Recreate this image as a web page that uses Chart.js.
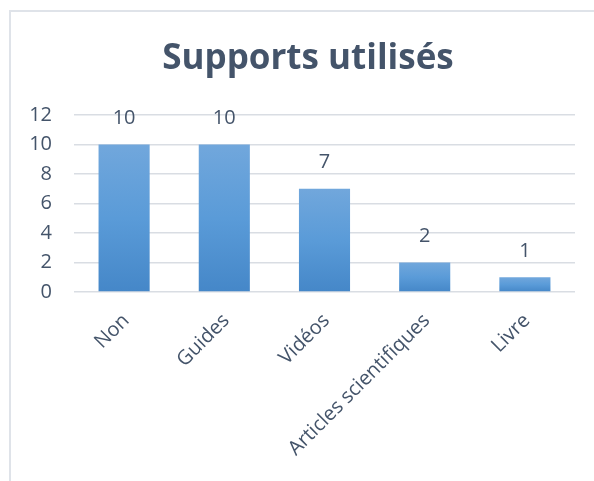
<!DOCTYPE html>
<html>
<head>
<meta charset="utf-8">
<script src="https://cdn.jsdelivr.net/npm/chart.js@4"></script>
<style>
  html, body { margin: 0; padding: 0; background: #fff; }
  #wrap { position: relative; width: 594px; height: 481px; overflow: hidden; }
  #frame {
    position: absolute; left: 9px; top: 10px; width: 700px; height: 600px;
    border-top: 2px solid #dfe3e9; border-left: 2px solid #dfe3e9;
    pointer-events: none;
  }
</style>
</head>
<body>
<div id="wrap">
  <canvas id="supportsChart" width="594" height="481"></canvas>
  <div id="frame"></div>
</div>
<script>
// Categories and counts
const categories = ['Non', 'Guides', 'Vidéos', 'Articles scientifiques', 'Livre'];
const counts = [10, 10, 7, 2, 1];
const yTicks = [0, 2, 4, 6, 8, 10, 12];

const TEXT_COLOR = '#44546a';
const FONT = "'Open Sans', sans-serif";

// Each bar gets its own light-to-dark vertical gradient
function barGradient(context) {
  const chart = context.chart;
  const area = chart.chartArea;
  if (!area) return '#5b9bd5';
  const yScale = chart.scales.y;
  const v = context.parsed ? context.parsed.y : counts[context.dataIndex];
  const top = yScale.getPixelForValue(v);
  const bottom = yScale.getPixelForValue(0);
  const g = chart.ctx.createLinearGradient(0, top, 0, bottom);
  g.addColorStop(0, '#71a7dc');
  g.addColorStop(0.5, '#5a9bd8');
  g.addColorStop(1, '#4587c8');
  return g;
}

// Value labels above each bar
const valueLabels = {
  id: 'valueLabels',
  afterDatasetsDraw(chart) {
    const ctx = chart.ctx;
    const meta = chart.getDatasetMeta(0);
    ctx.save();
    ctx.font = `20px ${FONT}`;
    ctx.fillStyle = TEXT_COLOR;
    ctx.textAlign = 'center';
    ctx.textBaseline = 'middle';
    meta.data.forEach((bar, i) => {
      ctx.fillText(String(counts[i]), bar.x, bar.y - 26);
    });
    ctx.restore();
  }
};

// Centre the title over the whole frame rather than the padded box
const titleShift = {
  id: 'titleShift',
  afterLayout(chart) {
    if (chart.titleBlock) chart.titleBlock.left = 41;
  }
};

const chart = new Chart(document.getElementById('supportsChart'), {
  type: 'bar',
  data: {
    labels: categories,
    datasets: [{
      data: counts,
      backgroundColor: barGradient,
      borderWidth: 0,
      barPercentage: 0.51,
      categoryPercentage: 1
    }]
  },
  options: {
    responsive: false,
    animation: false,
    layout: { padding: { left: 0, right: 19, top: 0, bottom: 0 } },
    plugins: {
      legend: { display: false },
      tooltip: { enabled: false },
      title: {
        display: true,
        text: 'Supports utilisés',
        color: TEXT_COLOR,
        font: { family: FONT, size: 35, weight: 'bold', lineHeight: 1.2 },
        padding: { top: 38, bottom: 35 }
      }
    },
    scales: {
      x: {
        grid: { display: false, drawTicks: false },
        border: { display: false },
        ticks: {
          color: TEXT_COLOR,
          font: { family: FONT, size: 20 },
          minRotation: 45,
          maxRotation: 45,
          padding: 17,
          labelOffset: 2
        },
        afterFit(scale) { scale.height = 189; }
      },
      y: {
        min: 0,
        max: 12,
        grid: { color: '#d9dde3', lineWidth: 1.5, drawTicks: false },
        border: { display: false },
        afterBuildTicks(scale) { scale.ticks = yTicks.map(v => ({ value: v })); },
        ticks: {
          color: TEXT_COLOR,
          font: { family: FONT, size: 20 },
          padding: 22
        },
        afterFit(scale) { scale.width = 74; }
      }
    }
  },
  plugins: [valueLabels, titleShift]
});
</script>
</body>
</html>
